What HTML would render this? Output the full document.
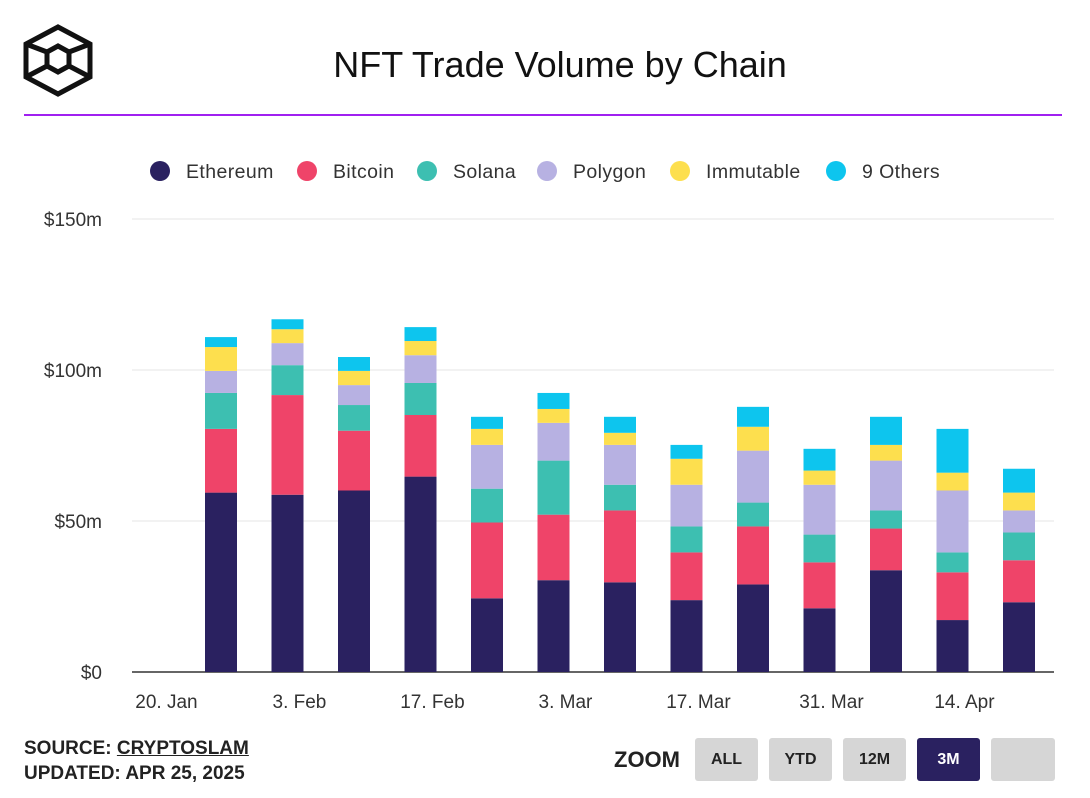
<!DOCTYPE html>
<html><head><meta charset="utf-8"><style>
body{margin:0;width:1090px;height:798px;background:#fff;font-family:"Liberation Sans",sans-serif;overflow:hidden;position:relative}
.t{position:absolute}
.btn{position:absolute;top:738px;height:43px;background:#d6d6d6;border-radius:3px;font-weight:bold;font-size:16px;color:#222;display:flex;align-items:center;justify-content:center}
</style></head><body>
<svg class="t" style="left:0;top:0" width="110" height="110" viewBox="0 0 110 110">
<g fill="none" stroke="#111" stroke-width="5" stroke-linejoin="miter">
<polygon points="58,27 90,44 90,77 58,94 26,77 26,44"/>
<polygon points="58,46 69,52 69,66 58,72 47,66 47,52"/>
<line x1="26" y1="44" x2="47" y2="52"/><line x1="90" y1="44" x2="69" y2="52"/>
<line x1="26" y1="77" x2="47" y2="66"/><line x1="90" y1="77" x2="69" y2="66"/>
</g></svg>
<div class="t" style="left:0;width:1120px;top:44px;text-align:center;font-size:36px;color:#111">NFT Trade Volume by Chain</div>
<div class="t" style="left:24px;top:114px;width:1038px;height:2px;background:#a020f0"></div>
<svg id="chart" class="t" style="left:0;top:140px" width="1090" height="580"></svg>
<div class="t" style="left:24px;top:738px;font-weight:bold;font-size:19px;color:#222">SOURCE: <a style="text-decoration:underline;color:#222">CRYPTOSLAM</a></div>
<div class="t" style="left:24px;top:763px;font-weight:bold;font-size:19px;color:#222">UPDATED: APR 25, 2025</div>
<div class="t" style="left:614px;top:747px;font-weight:bold;font-size:22px;color:#222">ZOOM</div>
<div class="btn" style="left:695px;width:63px">ALL</div>
<div class="btn" style="left:769px;width:63px">YTD</div>
<div class="btn" style="left:843px;width:63px">12M</div>
<div class="btn" style="left:917px;width:63px;background:#2a2160;color:#fff">3M</div>
<div class="btn" style="left:991px;width:64px"></div>
<script>
const series=["Ethereum","Bitcoin","Solana","Polygon","Immutable","9 Others"];
const colors=["#2a2160","#ef4469","#3dbfb1","#b7b1e2","#fddf4e","#0dc5ee"];
const ethereum=[59.4,58.7,60.1,64.7,24.4,30.4,29.7,23.8,29,21.1,33.7,17.2,23.1];
const bitcoin=[21.1,33,19.8,20.4,25.1,21.7,23.8,15.8,19.2,15.2,13.8,15.8,13.9];
const solana=[11.9,9.9,8.5,10.6,11.2,17.9,8.5,8.6,7.9,9.2,6,6.6,9.2];
const polygon=[7.3,7.3,6.6,9.2,14.5,12.5,13.2,13.8,17.2,16.5,16.5,20.5,7.3];
const immutable=[7.9,4.6,4.7,4.7,5.3,4.6,4,8.6,7.9,4.7,5.2,5.9,5.9];
const others=[3.3,3.3,4.6,4.6,4,5.3,5.3,4.6,6.6,7.2,9.3,14.5,7.9];
const yTicks=[0,50,100,150];
const yLabels=["$0","$50m","$100m","$150m"];
const xLabels=["20. Jan","3. Feb","17. Feb","3. Mar","17. Mar","31. Mar","14. Apr"];
const xLabelIdx=[-0.7,1.3,3.3,5.3,7.3,9.3,11.3];
const data=[ethereum,bitcoin,solana,polygon,immutable,others];
const svg=document.getElementById('chart');const NS='http://www.w3.org/2000/svg';
const y0=532,pxPer=151/50;const y=v=>y0-v*pxPer;const x=i=>221+i*66.5;
function mk(t,a){const e=document.createElementNS(NS,t);for(const k in a)e.setAttribute(k,a[k]);svg.appendChild(e);return e;}
yTicks.forEach((v,i)=>{const l=mk('line',{x1:132,x2:1054,y1:y(v),y2:y(v),stroke:i?'#e6e6e6':'#333','stroke-width':i?1:1.5});


const t=mk('text',{x:102,y:y(v)+7,'text-anchor':'end','font-size':19,fill:'#333'});t.textContent=yLabels[i];

});
xLabels.forEach((s,i)=>{const t=mk('text',{x:x(xLabelIdx[i])-8,y:568,'text-anchor':'middle','font-size':19,fill:'#333'});t.textContent=s;

});
ethereum.forEach((_,i)=>{let acc=0;data.forEach((s,j)=>{const r=mk('rect',{x:x(i)-16,width:32,y:y(acc+s[i]),height:s[i]*pxPer,fill:colors[j]});acc+=s[i];

});});
const lx=[160,307,427,547,680,836];
series.forEach((s,i)=>{const c=mk('circle',{cx:lx[i],cy:31,r:10,fill:colors[i]});


const t=mk('text',{x:lx[i]+26,y:38,'font-size':19.5,fill:'#333','letter-spacing':'0.4'});t.textContent=s;

});
</script>
</body></html>
